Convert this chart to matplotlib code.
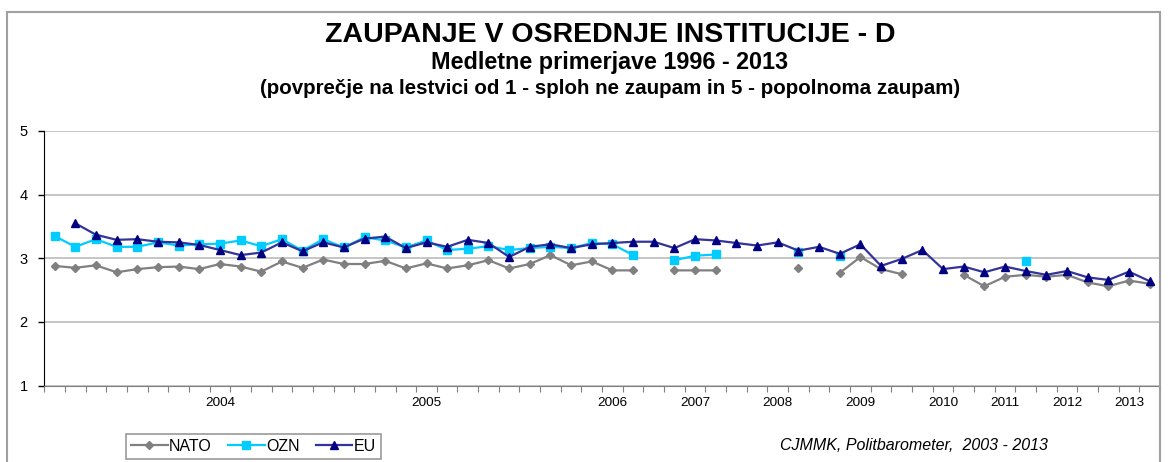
import matplotlib
matplotlib.use('Agg')
import matplotlib.pyplot as plt
import numpy as np
from matplotlib.patches import Rectangle

plt.rcParams['font.family'] = ['Liberation Sans', 'DejaVu Sans']

nan = np.nan

# survey waves (categories), years labelled under some of them
n_waves = 54
year_pos = [8, 18, 27, 31, 35, 39, 43, 46, 49, 52]
year_labels = ['2004', '2005', '2006', '2007', '2008', '2009', '2010', '2011', '2012', '2013']

nato = [2.88, 2.85, 2.89, 2.78, 2.83, 2.86, 2.87, 2.83, 2.91, 2.87,
        2.79, 2.95, 2.85, 2.98, 2.91, 2.91, 2.96, 2.84, 2.92, 2.84,
        2.89, 2.97, 2.84, 2.91, 3.05, 2.89, 2.95, 2.81, 2.81, nan,
        2.81, 2.81, 2.81, nan, nan, nan, 2.84, nan, 2.77, 3.02,
        2.83, 2.75, nan, nan, 2.74, 2.56, 2.71, 2.74, 2.71, 2.74,
        2.62, 2.56, 2.65, 2.60]
ozn = [3.35, 3.18, 3.30, 3.18, 3.18, 3.25, 3.20, 3.22, 3.23, 3.28,
       3.19, 3.30, 3.12, 3.30, 3.17, 3.33, 3.28, 3.17, 3.28, 3.13,
       3.15, 3.19, 3.13, 3.16, 3.18, 3.16, 3.24, 3.22, 3.05, nan,
       2.97, 3.04, 3.06, nan, nan, nan, 3.10, nan, 3.04, nan,
       nan, nan, nan, nan, nan, nan, nan, 2.96, nan, nan,
       nan, nan, nan, nan]
eu = [nan, 3.55, 3.37, 3.29, 3.30, 3.26, 3.25, 3.21, 3.13, 3.05,
      3.09, 3.25, 3.11, 3.25, 3.17, 3.31, 3.34, 3.16, 3.25, 3.18,
      3.29, 3.24, 3.02, 3.18, 3.22, 3.16, 3.22, 3.24, 3.26, 3.26,
      3.16, 3.30, 3.28, 3.24, 3.20, 3.25, 3.12, 3.18, 3.07, 3.22,
      2.88, 2.99, 3.13, 2.83, 2.87, 2.78, 2.87, 2.80, 2.74, 2.80,
      2.70, 2.66, 2.79, 2.64]

x = np.arange(n_waves)

fig = plt.figure(figsize=(11.71, 4.62), dpi=100)
ax = fig.add_axes([0.0378, 0.1654, 0.9528, 0.5511])

ax.plot(x, nato, color='#808080', lw=1.6, marker='D', ms=4.5, label='NATO')
ax.plot(x, ozn, color='#00ccff', lw=1.6, marker='s', ms=6, label='OZN')
ax.plot(x, eu, color='#333399', lw=1.6, marker='^', ms=5.5,
        markerfacecolor='#000080', markeredgecolor='#000080', label='EU')

ax.set_ylim(1, 5)
ax.set_xlim(-0.5, n_waves - 0.5)
ax.set_yticks([1, 2, 3, 4, 5])
ax.yaxis.grid(True, color='#c0c0c0', lw=1.3)
ax.set_axisbelow(True)
ax.tick_params(axis='y', direction='out', length=4, width=1, pad=8, labelsize=10.5)

ax.set_xticks(year_pos)
ax.set_xticklabels(year_labels)
ax.set_xticks(np.arange(-0.5, n_waves, 1), minor=True)
ax.tick_params(axis='x', which='major', length=0, pad=8, labelsize=9.7)
ax.tick_params(axis='x', which='minor', direction='out', length=4, width=0.8, color='#808080')

for s in ['top', 'right']:
    ax.spines[s].set_visible(False)
ax.spines['left'].set_color('black')
ax.spines['bottom'].set_color('#808080')

# chart frame
fig.patches.append(Rectangle((7 / 1171, -0.1), 1153 / 1171, 1.1 - 12 / 462,
                             transform=fig.transFigure, fill=False,
                             edgecolor='#a0a0a0', lw=1.5))

cx = 610 / 1171
fig.text(cx, 1 - 35 / 462, 'ZAUPANJE V OSREDNJE INSTITUCIJE - D', ha='center', va='center',
         fontsize=20.5, fontweight='bold')
fig.text(cx, 1 - 63 / 462, 'Medletne primerjave 1996 - 2013', ha='center', va='center',
         fontsize=16.8, fontweight='bold')
fig.text(cx, 1 - 89 / 462, '(povprečje na lestvici od 1 - sploh ne zaupam in 5 - popolnoma zaupam)',
         ha='center', va='center', fontsize=14.8, fontweight='bold')

fig.text(780 / 1171, 1 - 446 / 462, 'CJMMK, Politbarometer,  2003 - 2013', ha='left', va='center',
         fontsize=11.5, style='italic')

leg = fig.legend(loc='upper left', bbox_to_anchor=(126 / 1171, 1 - 434 / 462), ncol=3,
                 frameon=True, fancybox=False, edgecolor='#808080', fontsize=11.5,
                 handlelength=2.3, handletextpad=0.1, columnspacing=1.0,
                 borderpad=0.3, borderaxespad=0)
leg.get_frame().set_linewidth(1.2)

fig.savefig('out.png', dpi=100)
